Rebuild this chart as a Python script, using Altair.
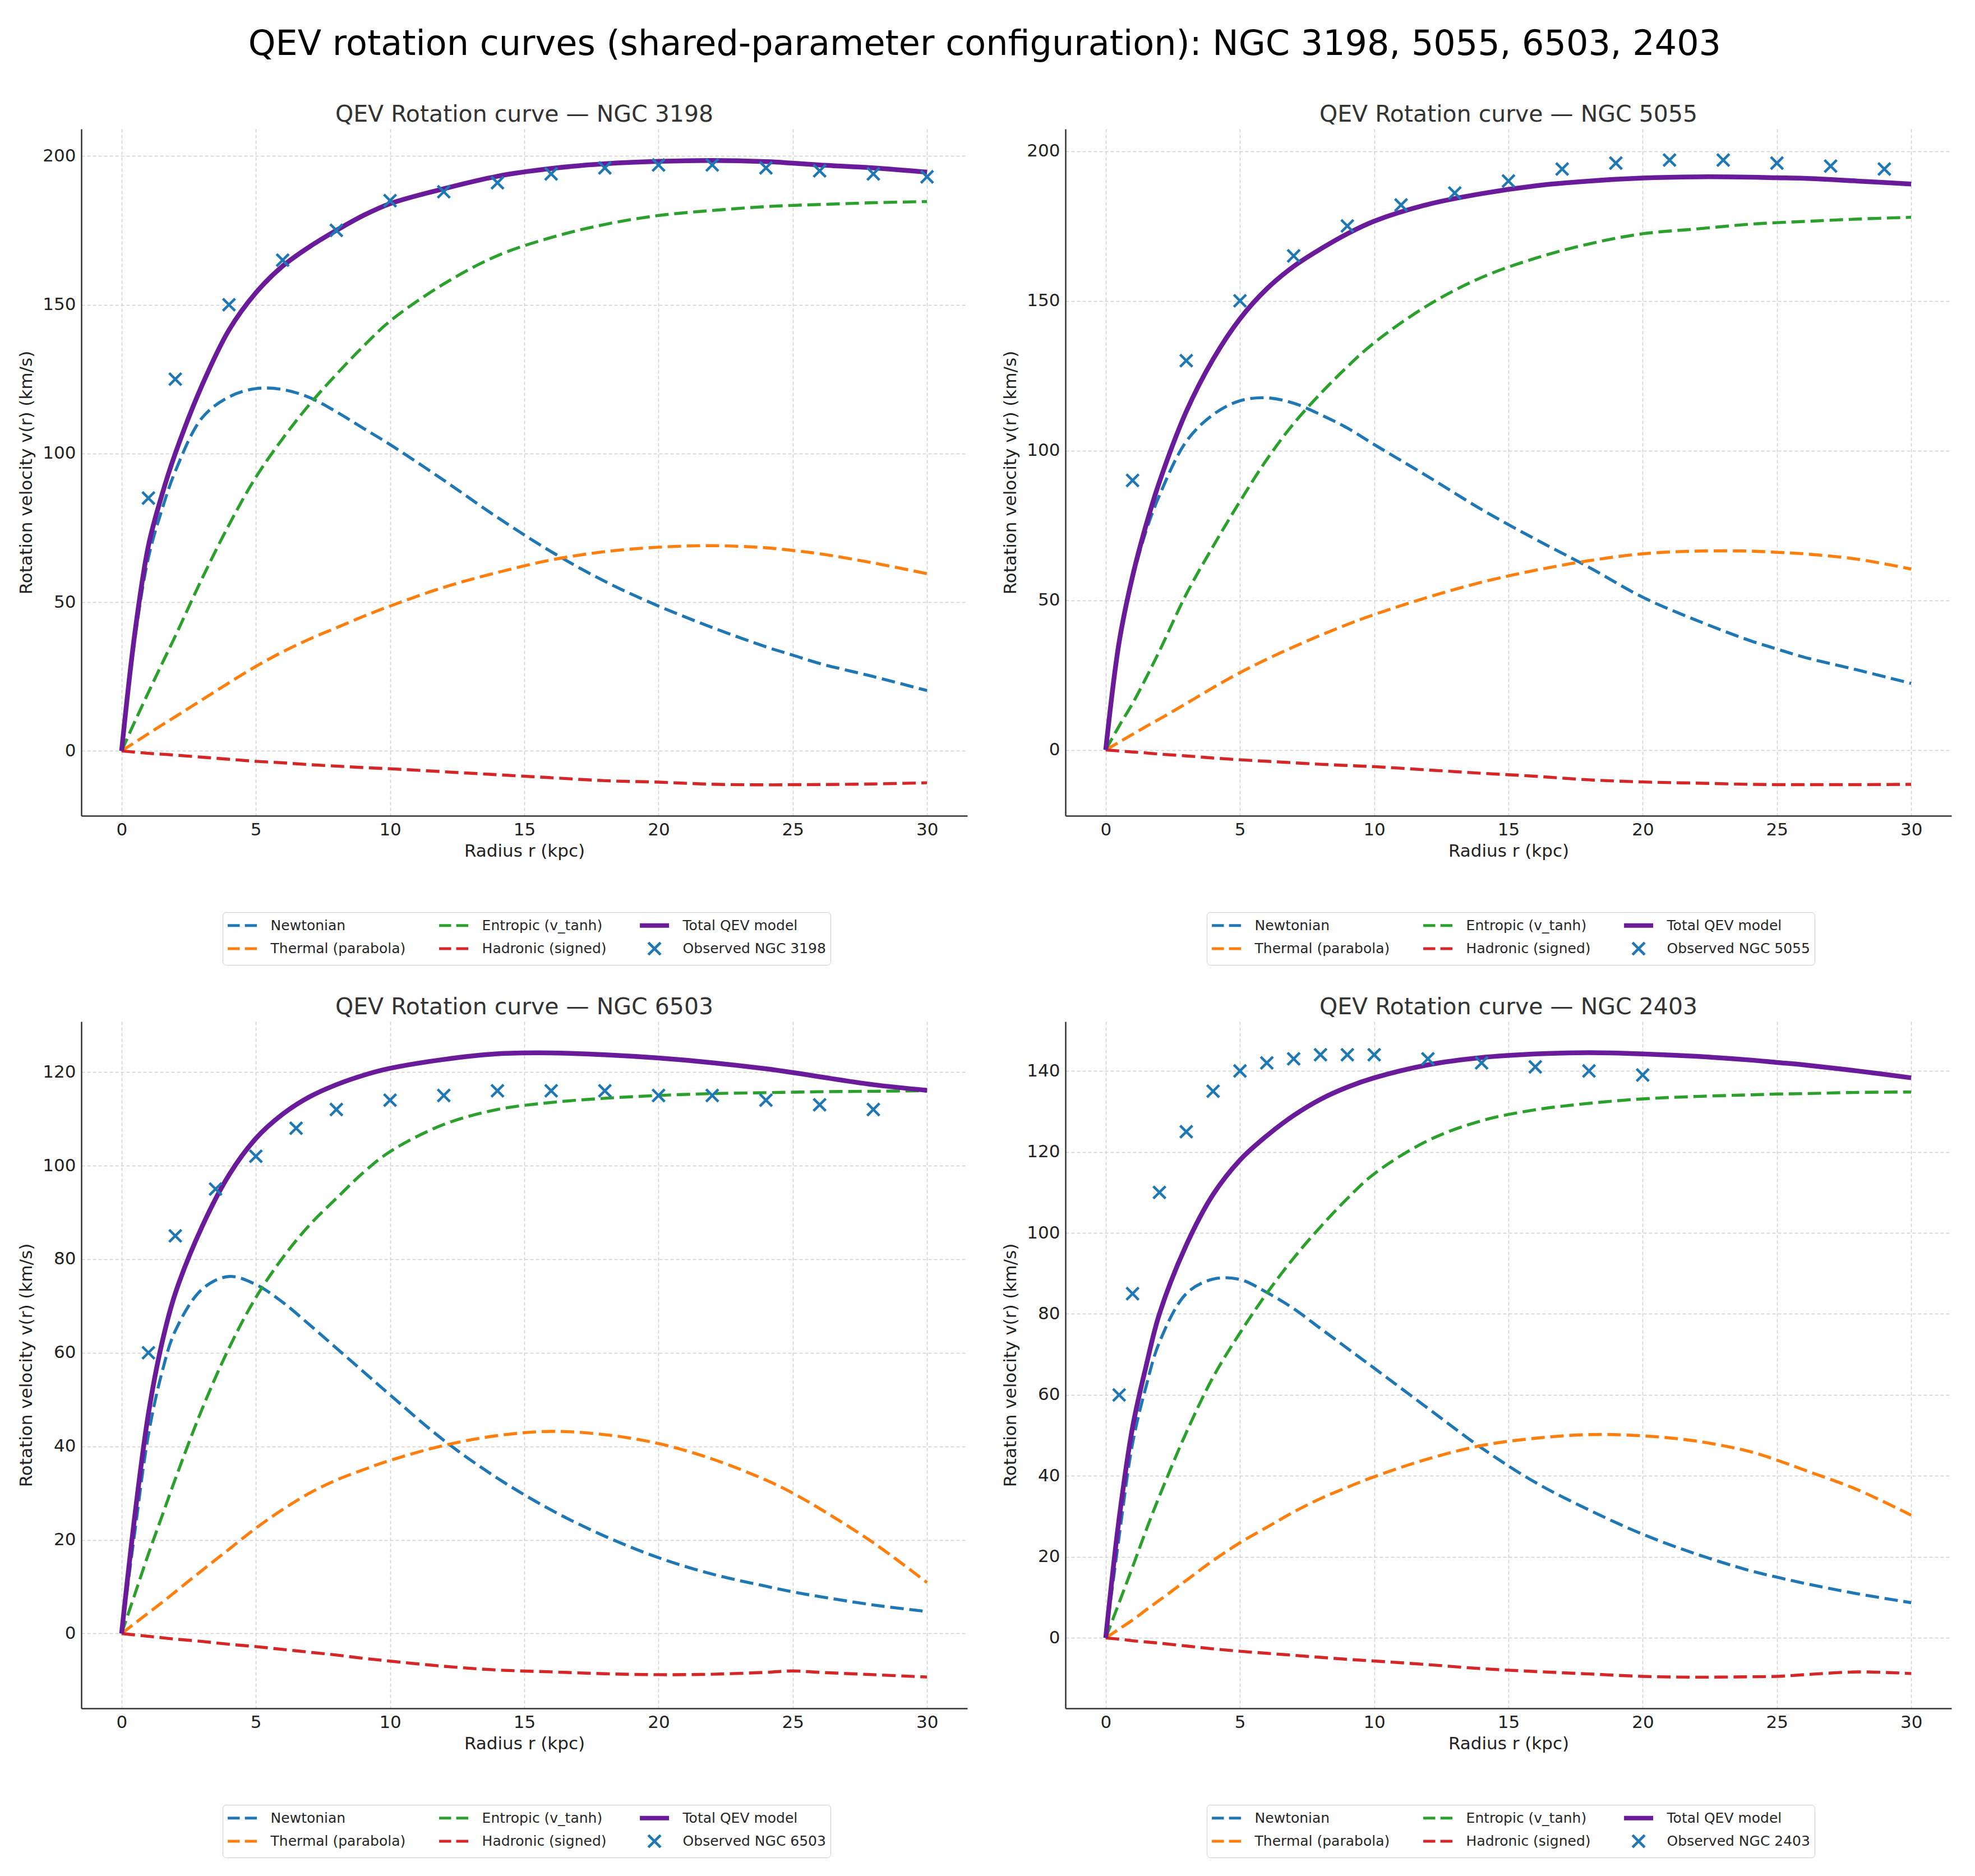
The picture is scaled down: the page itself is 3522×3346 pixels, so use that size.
import altair as alt
import pandas as pd

# ---------------- data ----------------
R = [0, 0.5, 1, 1.5, 2, 3, 4, 5, 6, 7, 8, 9, 10, 12, 14, 16, 18, 20, 22, 24, 25, 26, 28, 30]

# NGC 3198
NEWTON_3198 = [0, 38, 65, 81, 94, 112, 119, 121.8, 121.5, 118.8, 114, 108.5, 103, 91, 78.5, 67, 57, 48.7, 41.5, 35, 32.2, 29.4, 25, 20.3]
THERMAL_3198 = [0, 2.9, 5.8, 8.7, 11.5, 17.2, 22.9, 28.4, 33.3, 37.6, 41.4, 45.2, 48.7, 55, 60, 64.2, 67, 68.5, 69, 68.3, 67.4, 66.3, 63.2, 59.6]
ENTROPIC_3198 = [0, 10, 19.7, 29.2, 38.6, 58, 76, 92, 105, 116.5, 126.6, 136, 144.5, 157, 166.5, 172.6, 177, 180, 181.7, 183, 183.4, 183.7, 184.3, 184.7]
HADRONIC_3198 = [0, -0.4, -0.8, -1.1, -1.4, -2.1, -2.8, -3.5, -4.0, -4.6, -5.1, -5.6, -6.0, -7.0, -8.0, -9.0, -10.0, -10.5, -11.2, -11.4, -11.35, -11.3, -11.1, -10.7]
TOTAL_3198 = [0, 40, 69, 86, 100, 123, 141.5, 154, 163, 169.5, 175, 180, 184, 189, 193.2, 195.8, 197.4, 198.2, 198.5, 198.1, 197.6, 197, 196, 194.6]
OBS_R_3198 = [1, 2, 4, 6, 8, 10, 12, 14, 16, 18, 20, 22, 24, 26, 28, 30]
OBS_V_3198 = [85, 125, 150, 165, 175, 185, 188, 191, 194, 196, 197, 197, 196, 195, 194, 193]

# NGC 5055
NEWTON_5055 = [0, 35, 57, 73, 85, 103, 112, 116.6, 117.6, 115.8, 112, 107.5, 102, 91.3, 80.3, 70.4, 61, 51, 43.3, 36.5, 33.7, 31, 26.7, 22.2]
THERMAL_5055 = [0, 2.6, 5.2, 7.8, 10.3, 15.5, 20.8, 25.8, 30.3, 34.4, 38.3, 41.9, 45.2, 51, 56, 60, 63.2, 65.5, 66.4, 66.4, 66.0, 65.5, 63.7, 60.4]
ENTROPIC_5055 = [0, 8, 15.5, 24, 33, 52, 68, 83, 97, 109, 119, 128, 136, 148.5, 157.8, 164.2, 169, 172.4, 174, 175.6, 176.1, 176.5, 177.3, 177.9]
HADRONIC_5055 = [0, -0.35, -0.7, -1.0, -1.4, -2.0, -2.7, -3.3, -3.8, -4.3, -4.8, -5.2, -5.6, -6.7, -7.8, -8.8, -10.0, -10.7, -11.1, -11.5, -11.6, -11.6, -11.6, -11.5]
TOTAL_5055 = [0, 36, 58, 75, 89.5, 113, 130.5, 144, 154, 161.5, 167.3, 172.4, 176.6, 182.2, 185.8, 188.4, 190, 191, 191.4, 191.3, 191.1, 190.9, 190, 189]
OBS_R_5055 = [1, 3, 5, 7, 9, 11, 13, 15, 17, 19, 21, 23, 25, 27, 29]
OBS_V_5055 = [90, 130, 150, 165, 175, 182, 186, 190, 194, 196, 197, 197, 196, 195, 194]

# NGC 6503
NEWTON_6503 = [0, 22, 42.5, 55.7, 64.7, 73.6, 76.3, 74.6, 70.8, 66, 61, 56, 51, 41.3, 33.2, 26.4, 20.8, 16.2, 12.7, 10.1, 8.9, 7.9, 6.1, 4.7]
THERMAL_6503 = [0, 2.2, 4.4, 6.6, 8.9, 13.5, 18, 22.5, 26.5, 30, 32.8, 35, 37, 40.2, 42.3, 43.2, 42.5, 40.6, 37.3, 32.8, 30.0, 26.7, 19.4, 10.9]
ENTROPIC_6503 = [0, 8.5, 17, 25, 33, 48, 61, 71.8, 80.3, 87.3, 93, 98.5, 103, 108.8, 112, 113.5, 114.4, 115, 115.4, 115.6, 115.7, 115.8, 115.9, 116]
HADRONIC_6503 = [0, -0.3, -0.6, -0.9, -1.2, -1.7, -2.3, -2.8, -3.4, -4.0, -4.6, -5.3, -5.9, -7.0, -7.8, -8.2, -8.6, -8.8, -8.7, -8.3, -8.0, -8.3, -8.8, -9.3]
TOTAL_6503 = [0, 25.5, 47, 62, 72.7, 87, 98, 105.8, 111, 114.7, 117.3, 119.3, 120.8, 122.7, 123.9, 124.1, 123.7, 123, 122, 120.7, 119.9, 119, 117.3, 116.1]
OBS_R_6503 = [1, 2, 3.5, 5, 6.5, 8, 10, 12, 14, 16, 18, 20, 22, 24, 26, 28]
OBS_V_6503 = [60, 85, 95, 102, 108, 112, 114, 115, 116, 116, 116, 115, 115, 114, 113, 112]

# NGC 2403
NEWTON_2403 = [0, 25, 48, 62, 73, 85, 88.6, 88.5, 85.3, 81.3, 76.4, 71.5, 66.6, 56.7, 46.9, 38.4, 31.6, 25.6, 20.7, 16.6, 15.0, 13.5, 10.9, 8.7]
THERMAL_2403 = [0, 2.2, 4.4, 6.9, 9.3, 14.2, 19.1, 23.5, 27.3, 31.1, 34.4, 37.2, 39.8, 44.2, 47.5, 49.3, 50.2, 49.9, 48.6, 46, 43.9, 41.5, 36.6, 30.3]
ENTROPIC_2403 = [0, 8.7, 17.5, 26.5, 35, 50.7, 64.4, 75.3, 85.1, 93.8, 101.5, 108.5, 114.6, 122.8, 127.7, 130.4, 132, 133.1, 133.7, 134.1, 134.3, 134.4, 134.7, 134.8]
HADRONIC_2403 = [0, -0.3, -0.7, -1.0, -1.3, -2.0, -2.7, -3.3, -3.8, -4.3, -4.8, -5.3, -5.7, -6.6, -7.6, -8.3, -8.9, -9.5, -9.7, -9.6, -9.5, -9.1, -8.4, -8.8]
TOTAL_2403 = [0, 29.5, 52, 67, 80, 97, 109.5, 118, 124, 129, 133, 136, 138.3, 141.5, 143.3, 144.2, 144.5, 144.2, 143.6, 142.7, 142.1, 141.5, 140, 138.3]
OBS_R_2403 = [0.5, 1, 2, 3, 4, 5, 6, 7, 8, 9, 10, 12, 14, 16, 18, 20]
OBS_V_2403 = [60, 85, 110, 125, 135, 140, 142, 143, 144, 144, 144, 143, 142, 141, 140, 139]

X_TICKS = [0, 5, 10, 15, 20, 25, 30]
Y_TICKS_A = [0, 50, 100, 150, 200]
Y_TICKS_6503 = [0, 20, 40, 60, 80, 100, 120]
Y_TICKS_2403 = [0, 20, 40, 60, 80, 100, 120, 140]

# ---------------- styling ----------------
FONT = "DejaVu Sans"
BLUE, ORANGE, GREEN, RED, PURPLE = "#1f77b4", "#ff7f0e", "#2ca02c", "#d62728", "#6a1b9a"
# symbol size 676 -> 13 px per path unit
DASH_PATH = "M-2,0H-0.35M0.35,0H2"
SOLID_PATH = "M-2,-0.12H2M-2,0.12H2"
X_PATH = "M-0.84,-0.84L0.84,0.84M-0.84,0.84L0.84,-0.84"
SYM = 676
W, H = 1580, 1225
INTERP = "catmull-rom"


def panel(name, newton, thermal, entropic, hadronic, total, obs_r, obs_v, ydom, yticks):
    obs_label = f"Observed {name}"
    # legend fills column by column: (Newtonian, Thermal) (Entropic, Hadronic) (Total, Observed)
    domain = ["Newtonian", "Thermal (parabola)", "Entropic (v_tanh)",
              "Hadronic (signed)", "Total QEV model", obs_label]
    cs = alt.Scale(domain=domain, range=[BLUE, ORANGE, GREEN, RED, PURPLE, BLUE])
    ss = alt.Scale(domain=domain, range=[DASH_PATH, DASH_PATH, DASH_PATH, DASH_PATH, SOLID_PATH, X_PATH])

    x = alt.X("r:Q", scale=alt.Scale(domain=[-1.5, 31.5], nice=False, zero=False),
              axis=alt.Axis(values=X_TICKS, format="d", title="Radius r (kpc)"))
    y = alt.Y("v:Q", scale=alt.Scale(domain=ydom, nice=False, zero=False),
              axis=alt.Axis(values=yticks, format="d", title="Rotation velocity v(r) (km/s)"))

    layers = []
    for vals, col in [(newton, BLUE), (thermal, ORANGE), (entropic, GREEN), (hadronic, RED)]:
        df = pd.DataFrame({"r": R, "v": vals})
        layers.append(alt.Chart(df).mark_line(
            color=col, strokeDash=[24, 10], strokeWidth=5.4, interpolate=INTERP, strokeCap="butt"
        ).encode(x=x, y=y))
    layers.append(alt.Chart(pd.DataFrame({"r": R, "v": total})).mark_line(
        color=PURPLE, strokeWidth=8.5, interpolate=INTERP
    ).encode(x=x, y=y))

    leg = alt.Legend(title=None, orient="none", legendX=252, legendY=1397, columns=3,
                     symbolSize=SYM, symbolStrokeWidth=4.8, symbolOffset=11.6,
                     labelFont=FONT, labelFontSize=25, labelColor="#262626",
                     columnPadding=49, rowPadding=6.5, labelOffset=35,
                     padding=8, strokeColor="#cccccc", cornerRadius=6, fillColor="white",
                     labelLimit=600, symbolOpacity=1)
    obs_df = pd.DataFrame({"r": obs_r, "v": obs_v, "series": obs_label})
    layers.append(alt.Chart(obs_df).mark_point(
        filled=False, size=SYM, strokeWidth=4.6, opacity=1
    ).encode(x=x, y=y,
             color=alt.Color("series:N", scale=cs, legend=leg),
             shape=alt.Shape("series:N", scale=ss, legend=leg)))

    return alt.layer(*layers).properties(
        width=W, height=H,
        title=alt.TitleParams(f"QEV Rotation curve \u2014 {name}", fontSize=41, font=FONT,
                              fontWeight="normal", color="#333333", baseline="alphabetic",
                              offset=-28, anchor="middle"))


p1 = panel("NGC 3198", NEWTON_3198, THERMAL_3198, ENTROPIC_3198, HADRONIC_3198, TOTAL_3198,
           OBS_R_3198, OBS_V_3198, [-21.8, 209.1], Y_TICKS_A)
p2 = panel("NGC 5055", NEWTON_5055, THERMAL_5055, ENTROPIC_5055, HADRONIC_5055, TOTAL_5055,
           OBS_R_5055, OBS_V_5055, [-22.0, 207.4], Y_TICKS_A)
p3 = panel("NGC 6503", NEWTON_6503, THERMAL_6503, ENTROPIC_6503, HADRONIC_6503, TOTAL_6503,
           OBS_R_6503, OBS_V_6503, [-16.0, 130.8], Y_TICKS_6503)
p4 = panel("NGC 2403", NEWTON_2403, THERMAL_2403, ENTROPIC_2403, HADRONIC_2403, TOTAL_2403,
           OBS_R_2403, OBS_V_2403, [-17.4, 152.2], Y_TICKS_2403)

ind = dict(color="independent", shape="independent")
row1 = alt.hconcat(p1, p2, spacing=61).resolve_scale(**ind).resolve_legend(**ind)
row2 = alt.hconcat(p3, p4, spacing=61).resolve_scale(**ind).resolve_legend(**ind)

chart = alt.vconcat(row1, row2, spacing=54).resolve_scale(**ind).resolve_legend(**ind).properties(
    title=alt.TitleParams("QEV rotation curves (shared-parameter configuration): NGC 3198, 5055, 6503, 2403",
                          fontSize=62, font=FONT, fontWeight="normal", color="#000000",
                          anchor="middle", baseline="alphabetic", offset=24),
    padding={"left": 23, "top": 40, "right": 10, "bottom": 10},
    background="white",
).configure_view(stroke=None).configure_axis(
    labelFont=FONT, titleFont=FONT, labelFontSize=31, titleFontSize=31,
    titleFontWeight="normal", labelColor="#222222", titleColor="#222222",
    domainColor="#333333", domainWidth=2.5, ticks=False, labelPadding=10,
    grid=True, gridColor="#cfcfcf", gridDash=[6, 4], gridWidth=1.5,
).configure_axisY(titlePadding=12).configure_axisX(titlePadding=8)

chart.save("out.html", embed_options={"renderer": "svg", "actions": False})
